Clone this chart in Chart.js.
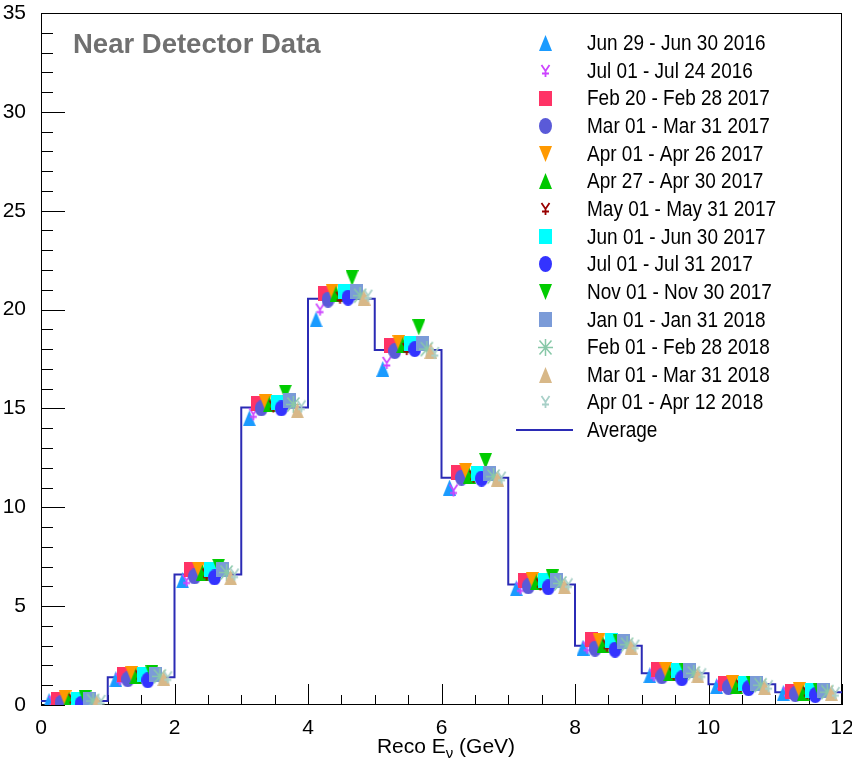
<!DOCTYPE html>
<html>
<head>
<meta charset="utf-8">
<title>Near Detector Data</title>
<script src="https://cdn.jsdelivr.net/npm/chart.js@4.4.1/dist/chart.umd.min.js"></script>
<style>
  html, body { margin: 0; padding: 0; background: #fff; }
  #wrap { width: 852px; height: 768px; }
</style>
</head>
<body>
<div id="wrap"><canvas id="chart" width="852" height="768"></canvas></div>
<script>
// Reco E_nu bins (GeV)
const binEdges = [0, 1, 2, 3, 4, 5, 6, 7, 8, 9, 10, 11, 12];

// Average histogram
const average = [0.2, 1.4, 6.6, 15.05, 20.55, 17.95, 11.5, 6.1, 3.0, 1.6, 1.05, 0.65];

// Per-period values (one value per bin)
const jun2016a = [0.2, 1.3, 6.3, 14.5, 19.5, 17.0, 11.0, 5.9, 2.9, 1.5, 0.95, 0.6];
const jul2016 = [0.15, 1.3, 6.3, 14.7, 20.0, 17.3, 10.85, 5.9, 2.9, 1.5, 0.95, 0.6];
const feb2017 = [0.3, 1.55, 6.85, 15.25, 20.8, 18.2, 11.75, 6.3, 3.3, 1.8, 1.1, 0.7];
const mar2017 = [0.1, 1.3, 6.5, 15.0, 20.5, 17.9, 11.5, 6.0, 2.85, 1.45, 0.9, 0.55];
const apr2017a = [0.35, 1.55, 6.85, 15.3, 20.9, 18.3, 11.85, 6.3, 3.25, 1.75, 1.1, 0.75];
const apr2017b = [0.25, 1.45, 6.7, 15.2, 20.8, 18.2, 11.6, 6.2, 3.05, 1.6, 0.95, 0.6];
const may2017 = [0.25, 1.45, 6.6, 15.1, 20.6, 18.0, 11.55, 6.1, 3.0, 1.55, 0.95, 0.6];
const jun2017 = [0.3, 1.55, 6.85, 15.3, 20.9, 18.3, 11.7, 6.3, 3.25, 1.75, 1.1, 0.75];
const jul2017 = [0.05, 1.25, 6.45, 15.0, 20.6, 18.0, 11.45, 5.95, 2.8, 1.35, 0.85, 0.5];
const nov2017 = [0.35, 1.6, 7.0, 15.8, 21.6, 19.1, 12.35, 6.45, 3.2, 1.7, 1.05, 0.7];
const jan2018 = [0.3, 1.55, 6.85, 15.4, 20.9, 18.3, 11.7, 6.3, 3.2, 1.75, 1.1, 0.75];
const feb2018 = [0.2, 1.45, 6.7, 15.2, 20.7, 18.0, 11.55, 6.15, 3.05, 1.6, 1.0, 0.65];
const mar2018 = [0.15, 1.35, 6.45, 14.9, 20.6, 17.9, 11.45, 6.0, 2.95, 1.5, 0.9, 0.6];
const apr2018 = [0.2, 1.4, 6.6, 15.1, 20.7, 17.8, 11.5, 6.1, 3.0, 1.55, 0.95, 0.6];

// Axis ticks
const yTickStep = 5;
const xTickStep = 2;

const FONT = "'Liberation Sans', Arial, Helvetica, sans-serif";

// ROOT markers come out a little taller than wide, so draw them on small canvases
function makeMarker(shape, color) {
    const c = document.createElement('canvas');
    const g = c.getContext('2d');
    let w = 13, h = 16;
    if (shape === 'square') { w = 13; h = 15; }
    if (shape === 'yen') { w = 11; h = 14; }
    if (shape === 'asterisk') { w = 15; h = 17; }
    c.width = w;
    c.height = h;
    g.fillStyle = color;
    g.strokeStyle = color;
    g.beginPath();
    if (shape === 'up') {
        g.moveTo(w / 2, 0); g.lineTo(w, h); g.lineTo(0, h); g.closePath(); g.fill();
    } else if (shape === 'down') {
        g.moveTo(0, 0); g.lineTo(w, 0); g.lineTo(w / 2, h); g.closePath(); g.fill();
    } else if (shape === 'square') {
        g.fillRect(0, 0, w, h);
    } else if (shape === 'circle') {
        g.ellipse(w / 2, h / 2, w / 2, h / 2, 0, 0, Math.PI * 2); g.fill();
    } else if (shape === 'yen') {
        g.lineWidth = 1.8;
        g.moveTo(1.5, 1); g.lineTo(w / 2, 7); g.lineTo(w - 1.5, 1);
        g.moveTo(w / 2, 7); g.lineTo(w / 2, h - 1);
        g.moveTo(2, 9.5); g.lineTo(w - 2, 9.5);
        g.stroke();
    } else if (shape === 'asterisk') {
        g.lineWidth = 1.5;
        g.moveTo(w / 2, 0); g.lineTo(w / 2, h);
        g.moveTo(0, h / 2); g.lineTo(w, h / 2);
        g.moveTo(1.5, 1.5); g.lineTo(w - 1.5, h - 1.5);
        g.moveTo(w - 1.5, 1.5); g.lineTo(1.5, h - 1.5);
        g.stroke();
    }
    return c;
}

const series = [
    { label: 'Jun 29 - Jun 30 2016', values: jun2016a, color: '#1a9bff', shape: 'up' },
    { label: 'Jul 01 - Jul 24 2016', values: jul2016, color: '#cc44ff', shape: 'yen' },
    { label: 'Feb 20 - Feb 28 2017', values: feb2017, color: '#ff3366', shape: 'square' },
    { label: 'Mar 01 - Mar 31 2017', values: mar2017, color: '#5a5ad8', shape: 'circle' },
    { label: 'Apr 01 - Apr 26 2017', values: apr2017a, color: '#ff9900', shape: 'down' },
    { label: 'Apr 27 - Apr 30 2017', values: apr2017b, color: '#00c800', shape: 'up' },
    { label: 'May 01 - May 31 2017', values: may2017, color: '#990000', shape: 'yen' },
    { label: 'Jun 01 - Jun 30 2017', values: jun2017, color: '#00ffff', shape: 'square' },
    { label: 'Jul 01 - Jul 31 2017', values: jul2017, color: '#3333ff', shape: 'circle' },
    { label: 'Nov 01 - Nov 30 2017', values: nov2017, color: '#00cc00', shape: 'down' },
    { label: 'Jan 01 - Jan 31 2018', values: jan2018, color: '#7b9bd8', shape: 'square' },
    { label: 'Feb 01 - Feb 28 2018', values: feb2018, color: '#88c8a8', shape: 'asterisk' },
    { label: 'Mar 01 - Mar 31 2018', values: mar2018, color: '#d8b888', shape: 'up' },
    { label: 'Apr 01 - Apr 12 2018', values: apr2018, color: '#a8d0c8', shape: 'yen' }
];
series.forEach(s => { s.marker = makeMarker(s.shape, s.color); });
const avgColor = '#2b2bb5';

// each period is shifted a bit inside the bin so the markers don't sit on top of each other
function shiftFor(i) {
    return 0.12 + i * 0.06;
}

const datasets = series.map((s, i) => ({
    type: 'scatter',
    label: s.label,
    data: s.values.map((v, b) => ({ x: binEdges[b] + shiftFor(i), y: v })),
    pointStyle: s.marker,
    pointRadius: 8,
    backgroundColor: s.color,
    borderColor: s.color,
    order: series.length - 1 - i
}));

datasets.push({
    type: 'line',
    label: 'Average',
    data: binEdges.map((e, k) => ({ x: e, y: average[Math.min(k, average.length - 1)] })),
    stepped: 'before',
    borderColor: avgColor,
    borderWidth: 2,
    pointRadius: 0,
    fill: false,
    order: 100
});

// ROOT-like frame, inward ticks, legend and titles
const rootStyle = {
    id: 'rootStyle',
    beforeDatasetsDraw(chart) {
        const ctx = chart.ctx;
        const a = chart.chartArea;
        const xs = chart.scales.x;
        const ys = chart.scales.y;
        ctx.save();
        ctx.strokeStyle = '#000';
        ctx.lineWidth = 1;
        ctx.strokeRect(a.left + 0.5, a.top + 0.5, a.right - a.left - 1, a.bottom - a.top - 1);

        ctx.beginPath();
        for (let v = 0; v <= 35; v += 1) {
            const py = Math.round(ys.getPixelForValue(v)) + 0.5;
            const len = v % yTickStep === 0 ? 24 : 12;
            ctx.moveTo(a.left, py);
            ctx.lineTo(a.left + len, py);
        }
        for (let v = 0; v <= 12; v += 0.5) {
            const px = Math.round(xs.getPixelForValue(v)) + 0.5;
            const len = v % xTickStep === 0 ? 21 : 10;
            ctx.moveTo(px, a.bottom);
            ctx.lineTo(px, a.bottom - len);
        }
        ctx.stroke();
        ctx.restore();
    },
    afterDraw(chart) {
        const ctx = chart.ctx;
        ctx.save();

        // title
        ctx.fillStyle = '#707070';
        ctx.font = 'bold 27.5px ' + FONT;
        ctx.textBaseline = 'alphabetic';
        ctx.textAlign = 'left';
        ctx.fillText('Near Detector Data', 73, 53);

        // legend (text a bit taller than wide, as in the ROOT output)
        const lx = 545, tx = 587, ly0 = 43, dy = 27.65, stretch = 1.15;
        ctx.font = '19px ' + FONT;
        ctx.textBaseline = 'middle';
        series.forEach((s, i) => {
            const y = ly0 + i * dy;
            ctx.drawImage(s.marker, Math.round(lx - s.marker.width / 2), Math.round(y - s.marker.height / 2));
            ctx.save();
            ctx.translate(tx, y + 1);
            ctx.scale(1, stretch);
            ctx.fillStyle = '#000';
            ctx.fillText(s.label, 0, 0);
            ctx.restore();
        });
        const yAvg = ly0 + series.length * dy;
        ctx.strokeStyle = avgColor;
        ctx.lineWidth = 2;
        ctx.beginPath();
        ctx.moveTo(516, yAvg);
        ctx.lineTo(573, yAvg);
        ctx.stroke();
        ctx.save();
        ctx.translate(tx, yAvg + 1);
        ctx.scale(1, stretch);
        ctx.fillStyle = '#000';
        ctx.fillText('Average', 0, 0);
        ctx.restore();

        // x axis title: Reco E_nu (GeV)
        ctx.fillStyle = '#000';
        ctx.textBaseline = 'alphabetic';
        const big = '21px ' + FONT, small = '15px ' + FONT;
        ctx.font = big;
        const w1 = ctx.measureText('Reco E').width;
        const w3 = ctx.measureText(' (GeV)').width;
        ctx.font = small;
        const w2 = ctx.measureText('\u03bd').width;
        const x0 = 446 - (w1 + w2 + w3) / 2;
        const base = 753;
        ctx.font = big;
        ctx.fillText('Reco E', x0, base);
        ctx.font = small;
        ctx.fillText('\u03bd', x0 + w1, base + 5);
        ctx.font = big;
        ctx.fillText(' (GeV)', x0 + w1 + w2, base);
        ctx.restore();
    }
};

new Chart(document.getElementById('chart'), {
    data: { datasets: datasets },
    options: {
        responsive: false,
        animation: false,
        layout: { padding: { top: 13, right: 10, left: 0, bottom: 0 } },
        plugins: {
            legend: { display: false },
            tooltip: { enabled: false }
        },
        scales: {
            x: {
                type: 'linear',
                min: 0,
                max: 12,
                grid: { display: false },
                border: { display: false },
                ticks: {
                    stepSize: xTickStep,
                    color: '#000',
                    font: { family: FONT, size: 21 },
                    padding: 3,
                    maxRotation: 0,
                    autoSkip: false
                },
                afterFit(scale) {
                    scale.height = 63;
                    scale.paddingLeft = 0;
                    scale.paddingRight = 0;
                }
            },
            y: {
                type: 'linear',
                min: 0,
                max: 35,
                grid: { display: false },
                border: { display: false },
                ticks: {
                    stepSize: yTickStep,
                    color: '#000',
                    font: { family: FONT, size: 21 },
                    padding: 7
                },
                afterFit(scale) {
                    scale.width = 41;
                    scale.paddingTop = 0;
                    scale.paddingBottom = 0;
                }
            }
        }
    },
    plugins: [rootStyle]
});
</script>
</body>
</html>
